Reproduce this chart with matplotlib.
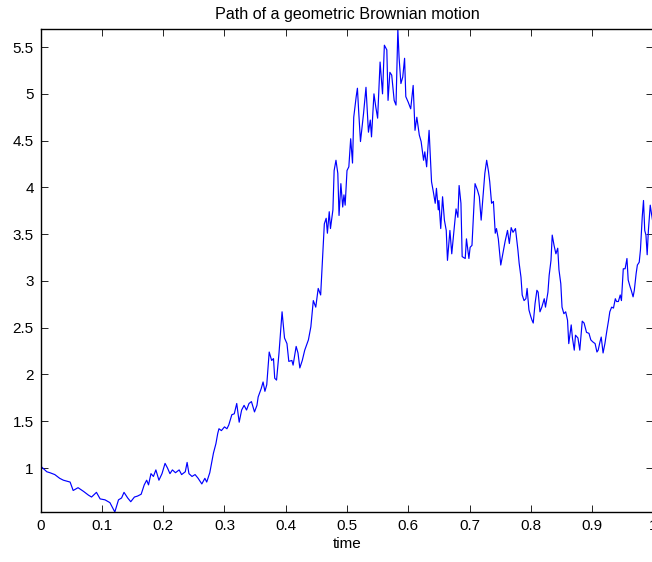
import matplotlib
matplotlib.use("Agg")
import matplotlib.pyplot as plt
import numpy as np

plt.rcParams['font.family'] = ['Liberation Sans', 'DejaVu Sans']

t = [0.000, 0.010, 0.015, 0.023, 0.031, 0.037, 0.048, 0.053, 0.061, 0.070,
     0.078, 0.083, 0.091, 0.097, 0.105, 0.113, 0.121, 0.127, 0.132, 0.136,
     0.142, 0.147, 0.153, 0.158, 0.164, 0.169, 0.173, 0.176, 0.180, 0.184,
     0.188, 0.193, 0.198, 0.203, 0.207, 0.211, 0.215, 0.220, 0.226, 0.230,
     0.236, 0.239, 0.242, 0.247, 0.252, 0.257, 0.263, 0.268, 0.271, 0.276,
     0.282, 0.286, 0.289, 0.291, 0.295, 0.300, 0.304, 0.307, 0.312, 0.316,
     0.320, 0.324, 0.328, 0.332, 0.336, 0.340, 0.344, 0.349, 0.353, 0.355,
     0.360, 0.363, 0.366, 0.369, 0.373, 0.377, 0.380, 0.382, 0.385, 0.389,
     0.394, 0.398, 0.402, 0.405, 0.410, 0.412, 0.417, 0.420, 0.423, 0.427,
     0.431, 0.437, 0.441, 0.445, 0.449, 0.453, 0.457, 0.460, 0.463, 0.466,
     0.468, 0.471, 0.473, 0.477, 0.479, 0.482, 0.485, 0.487, 0.490, 0.493,
     0.495, 0.497, 0.500, 0.503, 0.506, 0.509, 0.511, 0.515, 0.517, 0.519,
     0.522, 0.527, 0.531, 0.535, 0.538, 0.540, 0.544, 0.547, 0.550, 0.554,
     0.558, 0.561, 0.565, 0.567, 0.570, 0.573, 0.577, 0.580, 0.583, 0.585,
     0.588, 0.591, 0.594, 0.596, 0.600, 0.604, 0.608, 0.611, 0.614, 0.618,
     0.621, 0.625, 0.627, 0.630, 0.634, 0.638, 0.641, 0.644, 0.646, 0.649,
     0.650, 0.653, 0.656, 0.659, 0.662, 0.664, 0.668, 0.671, 0.675, 0.678,
     0.681, 0.683, 0.686, 0.688, 0.693, 0.695, 0.699, 0.701, 0.704, 0.706,
     0.709, 0.713, 0.716, 0.719, 0.722, 0.725, 0.728, 0.731, 0.733, 0.736,
     0.739, 0.742, 0.744, 0.747, 0.751, 0.755, 0.758, 0.762, 0.765, 0.768,
     0.771, 0.775, 0.779, 0.781, 0.784, 0.786, 0.789, 0.792, 0.794, 0.797,
     0.800, 0.802, 0.804, 0.807, 0.810, 0.812, 0.815, 0.818, 0.822, 0.824,
     0.828, 0.830, 0.833, 0.835, 0.838, 0.841, 0.844, 0.846, 0.849, 0.851,
     0.854, 0.857, 0.860, 0.862, 0.866, 0.868, 0.871, 0.873, 0.877, 0.880,
     0.884, 0.887, 0.891, 0.895, 0.898, 0.901, 0.905, 0.908, 0.910, 0.913,
     0.915, 0.918, 0.921, 0.924, 0.927, 0.929, 0.932, 0.935, 0.938, 0.940,
     0.943, 0.946, 0.948, 0.951, 0.954, 0.957, 0.959, 0.962, 0.964, 0.967,
     0.969, 0.972, 0.974, 0.977, 0.979, 0.982, 0.984, 0.986, 0.988, 0.990,
     0.992, 0.995, 0.997, 1.000]

S = [1.02, 0.96, 0.95, 0.93, 0.89, 0.87, 0.85, 0.76, 0.79, 0.75,
     0.71, 0.69, 0.74, 0.67, 0.66, 0.63, 0.53, 0.66, 0.68, 0.74,
     0.68, 0.64, 0.69, 0.70, 0.72, 0.82, 0.87, 0.82, 0.94, 0.91,
     0.98, 0.87, 0.94, 1.05, 1.00, 0.94, 0.98, 0.95, 0.98, 0.93,
     0.96, 1.06, 0.94, 0.91, 0.93, 0.89, 0.83, 0.89, 0.85, 0.95,
     1.16, 1.26, 1.37, 1.42, 1.40, 1.44, 1.42, 1.46, 1.57, 1.58,
     1.69, 1.49, 1.62, 1.67, 1.62, 1.69, 1.71, 1.60, 1.67, 1.76,
     1.85, 1.92, 1.82, 1.89, 2.24, 2.15, 2.17, 1.96, 1.94, 2.23,
     2.67, 2.39, 2.33, 2.14, 2.15, 2.10, 2.30, 2.23, 2.07, 2.15,
     2.26, 2.37, 2.51, 2.79, 2.72, 2.92, 2.85, 3.22, 3.61, 3.67,
     3.51, 3.74, 3.56, 3.76, 4.18, 4.29, 4.15, 3.70, 4.04, 3.79,
     3.92, 3.81, 4.18, 4.22, 4.52, 4.26, 4.75, 4.97, 5.06, 4.82,
     4.49, 4.79, 5.07, 4.59, 4.72, 4.54, 5.00, 4.86, 4.74, 5.34,
     5.00, 5.52, 5.47, 4.93, 5.23, 5.20, 4.93, 4.88, 5.69, 5.39,
     5.11, 5.18, 5.38, 4.97, 4.91, 4.84, 5.09, 4.61, 4.75, 4.56,
     4.49, 4.29, 4.38, 4.22, 4.61, 4.06, 3.95, 3.83, 3.99, 3.76,
     3.86, 3.56, 3.90, 3.65, 3.54, 3.22, 3.54, 3.29, 3.56, 3.77,
     3.68, 4.02, 3.83, 3.26, 3.24, 3.45, 3.24, 3.36, 3.38, 3.65,
     4.04, 3.97, 3.90, 3.65, 3.90, 4.15, 4.29, 4.17, 4.06, 3.83,
     3.85, 3.51, 3.56, 3.45, 3.17, 3.31, 3.42, 3.54, 3.40, 3.57,
     3.52, 3.56, 3.33, 3.19, 3.04, 2.85, 2.79, 2.81, 2.92, 2.69,
     2.62, 2.58, 2.55, 2.76, 2.90, 2.88, 2.67, 2.72, 2.81, 2.72,
     2.88, 3.06, 3.22, 3.49, 3.38, 3.29, 3.35, 3.12, 2.97, 2.72,
     2.65, 2.67, 2.58, 2.33, 2.53, 2.39, 2.26, 2.42, 2.39, 2.26,
     2.57, 2.55, 2.45, 2.44, 2.37, 2.35, 2.33, 2.24, 2.26, 2.35,
     2.40, 2.23, 2.33, 2.46, 2.58, 2.67, 2.72, 2.71, 2.81, 2.78,
     2.78, 2.85, 2.79, 3.13, 3.13, 3.24, 3.01, 2.94, 2.90, 2.83,
     2.90, 3.08, 3.17, 3.20, 3.33, 3.69, 3.86, 3.54, 3.49, 3.28,
     3.54, 3.81, 3.72, 3.60]

xticks = [0, 0.1, 0.2, 0.3, 0.4, 0.5, 0.6, 0.7, 0.8, 0.9, 1]
xticklabels = ['0', '0.1', '0.2', '0.3', '0.4', '0.5', '0.6', '0.7', '0.8', '0.9', '1']
yticks = [1, 1.5, 2, 2.5, 3, 3.5, 4, 4.5, 5, 5.5]
yticklabels = ['1', '1.5', '2', '2.5', '3', '3.5', '4', '4.5', '5', '5.5']

fig = plt.figure(figsize=(6.52, 5.62), dpi=100)
ax = fig.add_axes([40.7 / 652, 50 / 562, 612.6 / 652, 482.7 / 562])
ax.plot(t, S, color=(0, 0, 1), lw=0.85)
ax.set_xlim(0, 1)
ax.set_ylim(min(S), max(S))
ax.set_xticks(xticks)
ax.set_xticklabels(xticklabels)
ax.set_yticks(yticks)
ax.set_yticklabels(yticklabels)
ax.tick_params(direction='in', length=5, width=0.6, top=True, right=True,
               labelsize=11, pad=5, colors='black')
for sp in ax.spines.values():
    sp.set_linewidth(1.0)
    sp.set_color('black')
ax.set_title('Path of a geometric Brownian motion', fontsize=11.6, pad=7.5)
ax.set_xlabel('time', fontsize=11, labelpad=3)

fig.savefig('out.png', dpi=100)
